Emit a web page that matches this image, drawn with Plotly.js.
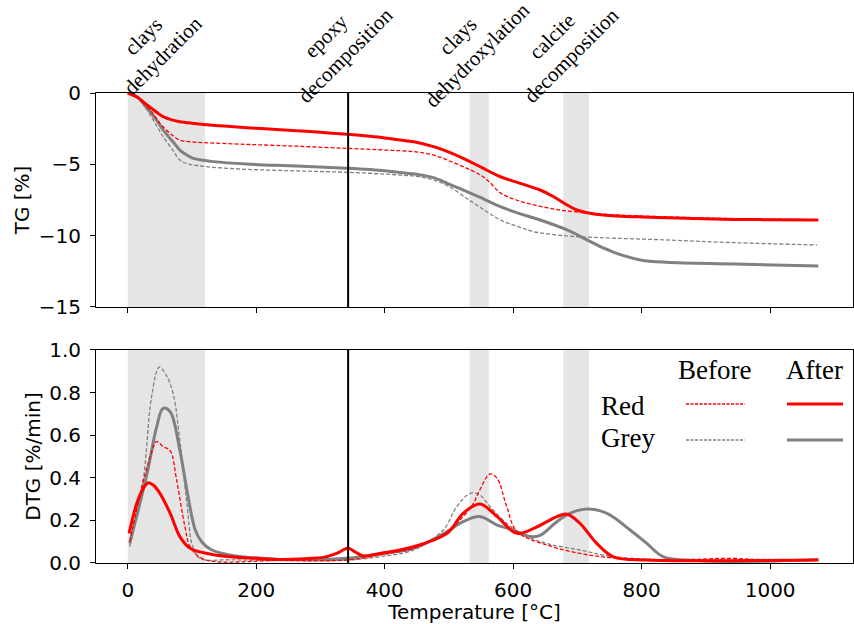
<!DOCTYPE html>
<html>
<head>
<meta charset="utf-8">
<script src="https://cdn.plot.ly/plotly-3.0.1.min.js"></script>
<style>html,body{margin:0;padding:0;background:#fff;}</style>
</head>
<body>
<div id="chart" style="width:854px;height:624px;"></div>
<script>
// ---------- TG data (Temperature °C, TG %) ----------
const tRedAfterTG  = [0,15,30,45,55,70,81,100,118,150,185,225,263,300,341,400,424,445,476,500,528,552,580,611,642,663,684,699,715,740,761,800,839,943,1000,1075];
const tgRedAfter   = [0,-0.3,-0.84,-1.35,-1.66,-1.9,-2.01,-2.12,-2.2,-2.32,-2.43,-2.54,-2.64,-2.76,-2.9,-3.15,-3.3,-3.42,-3.76,-4.15,-4.7,-5.25,-5.87,-6.33,-6.8,-7.27,-7.85,-8.2,-8.39,-8.55,-8.62,-8.69,-8.74,-8.86,-8.88,-8.9];

const tRedBeforeTG = [0,15,30,40,50,65,81,100,118,185,263,341,400,445,476,500,528,549,562,580,605,632,660,684,725,761,839,943,1075];
const tgRedBefore  = [0,-0.3,-0.96,-1.5,-2.13,-2.8,-3.3,-3.43,-3.48,-3.6,-3.73,-3.88,-4.0,-4.11,-4.35,-4.75,-5.28,-5.75,-6.2,-7.0,-7.5,-7.85,-8.1,-8.27,-8.44,-8.55,-8.68,-8.8,-8.88];

const tGreyAfterTG = [0,15,30,45,55,70,81,92,102,118,133,185,263,341,400,424,450,476,500,528,555,580,610,642,684,715,740,761,798,839,943,1075];
const tgGreyAfter  = [0,-0.3,-1.07,-1.9,-2.59,-3.4,-4.0,-4.35,-4.58,-4.72,-4.81,-4.98,-5.12,-5.28,-5.45,-5.58,-5.7,-5.93,-6.38,-6.92,-7.45,-7.97,-8.45,-8.9,-9.6,-10.3,-10.85,-11.24,-11.7,-11.87,-11.99,-12.13];

const tGreyBeforeTG = [0,15,30,45,55,70,81,92,102,133,185,263,341,424,450,476,500,528,555,580,610,632,684,735,839,943,1073];
const tgGreyBefore  = [0,-0.3,-1.19,-2.3,-3.06,-4.0,-4.7,-4.95,-5.05,-5.21,-5.35,-5.46,-5.56,-5.75,-5.85,-6.1,-6.55,-7.4,-8.2,-8.9,-9.4,-9.72,-10.02,-10.14,-10.3,-10.49,-10.65];

// ---------- DTG data (Temperature °C, DTG %/min) ----------
const tRedAfterDTG = [2,14,24,32,40,50,66,81,97,118,159,200,237,289,310,325,343,355,367,393,445,497,522,548,575,606,637,668,684,704,730,756,808,912,1000,1075];
const dtgRedAfter  = [0.139,0.28,0.35,0.377,0.365,0.327,0.233,0.124,0.069,0.048,0.029,0.022,0.017,0.022,0.03,0.045,0.069,0.05,0.033,0.045,0.077,0.139,0.233,0.277,0.218,0.139,0.17,0.218,0.229,0.186,0.092,0.029,0.014,0.01,0.012,0.014];

const tRedBeforeDTG = [3,22,35,45,55,66,76,89,97,118,237,341,393,445,497,522,538,548,564,575,590,606,652,704,756,850,938,1000,1075];
const dtgRedBefore  = [0.1,0.358,0.5,0.57,0.546,0.527,0.39,0.17,0.077,0.018,0.012,0.014,0.038,0.069,0.147,0.218,0.28,0.343,0.418,0.397,0.264,0.147,0.085,0.045,0.024,0.014,0.022,0.012,0.012];

const tGreyAfterDTG = [3,30,45,55,66,81,92,105,115,130,159,237,341,393,445,497,522,548,575,600,626,642,668,690,715,746,782,808,834,886,990,1075];
const dtgGreyAfter  = [0.092,0.42,0.64,0.726,0.71,0.53,0.343,0.155,0.1,0.062,0.038,0.017,0.022,0.045,0.069,0.147,0.194,0.218,0.178,0.155,0.124,0.13,0.194,0.235,0.253,0.233,0.155,0.092,0.029,0.012,0.008,0.017];

const tGreyBeforeDTG = [3,24,37,49,61,71,81,92,101,112,160,341,393,445,491,512,533,548,564,590,611,652,704,756,850,1000,1075];
const dtgGreyBefore  = [0.077,0.39,0.78,0.92,0.875,0.79,0.577,0.28,0.077,0.022,0.015,0.014,0.03,0.061,0.155,0.264,0.327,0.319,0.264,0.186,0.139,0.092,0.061,0.03,0.014,0.017,0.014];

// ---------- annotations / ticks ----------
const xTicks = [0,200,400,600,800,1000];
const tgTicks = [-15,-10,-5,0];
const dtgTicks = [0,0.2,0.4,0.6,0.8,1.0];
const bands = [[0,120],[532,562],[678,718]];
const epoxyLineT = 343;
const eventLabels = ['clays<br>dehydration','epoxy<br>decomposition','clays<br>dehydroxylation','calcite<br>decomposition'];
const eventLabelT = [40,324,529,676];
const legendCols = ['Before','After'];
const legendRows = ['Red','Grey'];

const RED = '#ff0000', GREY = '#808080';
const spl = {shape:'spline', smoothing:1};

function tr(x, y, color, dashed, xa, ya) {
  return {
    x: x, y: y, type: 'scatter', mode: 'lines', xaxis: xa, yaxis: ya,
    hoverinfo: 'skip',
    line: Object.assign({color: color, width: dashed ? 1.3 : 3, dash: dashed ? '4px,2px' : 'solid'}, spl)
  };
}

const data = [
  tr(tGreyBeforeTG, tgGreyBefore, GREY, true, 'x', 'y'),
  tr(tGreyAfterTG, tgGreyAfter, GREY, false, 'x', 'y'),
  tr(tRedBeforeTG, tgRedBefore, RED, true, 'x', 'y'),
  tr(tRedAfterTG, tgRedAfter, RED, false, 'x', 'y'),
  tr(tGreyBeforeDTG, dtgGreyBefore, GREY, true, 'x2', 'y2'),
  tr(tGreyAfterDTG, dtgGreyAfter, GREY, false, 'x2', 'y2'),
  tr(tRedBeforeDTG, dtgRedBefore, RED, true, 'x2', 'y2'),
  tr(tRedAfterDTG, dtgRedAfter, RED, false, 'x2', 'y2')
];

const shapes = [];
bands.forEach(b => {
  [['x','y domain'],['x2','y2 domain']].forEach(r => {
    shapes.push({type:'rect', xref:r[0], yref:r[1], x0:b[0], x1:b[1], y0:0, y1:1,
                 fillcolor:'#e5e5e5', line:{width:0}, layer:'below'});
  });
});
[['x','y domain'],['x2','y2 domain']].forEach(r => {
  shapes.push({type:'line', xref:r[0], yref:r[1], x0:epoxyLineT, x1:epoxyLineT, y0:0, y1:1,
               line:{color:'black', width:2}, layer:'above'});
});
// legend samples (paper coords)
const legX = [[0.7794,0.8573],[0.9128,0.9868]];
const legY = [0.3383,0.2617];
const legColors = [RED, GREY];
legY.forEach((yy, i) => {
  legX.forEach((xx, j) => {
    shapes.push({type:'line', xref:'paper', yref:'paper', x0:xx[0], x1:xx[1], y0:yy, y1:yy,
      line:{color:legColors[i], width: j===0 ? 1.3 : 3, dash: j===0 ? '3px,1.5px' : 'solid'}});
  });
});

const annotations = [];
eventLabels.forEach((txt, i) => {
  annotations.push({text: txt, x: eventLabelT[i], xref:'x', y: 1.1, yref:'paper',
    showarrow:false, textangle:-45, xanchor:'center', yanchor:'middle', align:'center',
    font:{family:'Liberation Serif', size:21, color:'black'}});
});
const colX = [0.8177, 0.9485];
legendCols.forEach((txt, i) => {
  annotations.push({text: txt, x: colX[i], y: 0.4096, xref:'paper', yref:'paper', showarrow:false,
    xanchor:'center', yanchor:'middle', font:{family:'Liberation Serif', size:27, color:'black'}});
});
const rowY = [0.3351, 0.2649];
legendRows.forEach((txt, i) => {
  annotations.push({text: txt, x: 0.6645, y: rowY[i], xref:'paper', yref:'paper', showarrow:false,
    xanchor:'left', yanchor:'middle', font:{family:'Liberation Serif', size:27, color:'black'}});
});

const axBase = {
  showline:true, mirror:true, linecolor:'black', linewidth:1,
  ticks:'outside', ticklen:5, tickwidth:1, tickcolor:'black',
  showgrid:false, zeroline:false, automargin:false,
  tickfont:{family:'DejaVu Sans', size:20, color:'black'}
};
const xRange = [-49.5, 1129];

const layout = {
  width:854, height:624,
  margin:{l:96, r:1, t:93, b:61},
  paper_bgcolor:'white', plot_bgcolor:'white',
  showlegend:false,
  font:{family:'DejaVu Sans', size:20, color:'black'},
  xaxis: Object.assign({}, axBase, {domain:[0,1], anchor:'y', range:xRange, tickvals:xTicks, showticklabels:false}),
  yaxis: Object.assign({}, axBase, {domain:[0.5447,1], anchor:'x', range:[-15,0], tickvals:tgTicks,
    ticklabelstandoff:5,
    title:{text:'TG [%]', standoff:3, font:{family:'DejaVu Sans', size:20, color:'black'}}}),
  xaxis2: Object.assign({}, axBase, {domain:[0,1], anchor:'y2', range:xRange, tickvals:xTicks,
    ticklabelstandoff:4,
    title:{text:'Temperature [°C]', standoff:6, font:{family:'DejaVu Sans', size:20, color:'black'}}}),
  yaxis2: Object.assign({}, axBase, {domain:[0,0.4532], anchor:'x2', range:[0,1], tickvals:dtgTicks, tickformat:'.1f',
    ticklabelstandoff:5,
    title:{text:'DTG [%/min]', standoff:3, font:{family:'DejaVu Sans', size:20, color:'black'}}}),
  shapes: shapes,
  annotations: annotations
};

Plotly.newPlot('chart', data, layout, {staticPlot:true, displayModeBar:false});
</script>
</body>
</html>
